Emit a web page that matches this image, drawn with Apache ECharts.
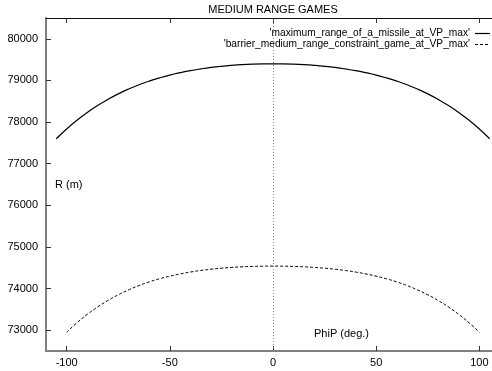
<!DOCTYPE html>
<html>
<head>
<meta charset="utf-8">
<script src="https://cdn.jsdelivr.net/npm/echarts@6/dist/echarts.min.js"></script>
<style>html,body{margin:0;padding:0;background:#fff}#c{width:492px;height:371px}</style>
</head>
<body>
<div id="c"></div>
<script>
var titleText = 'MEDIUM RANGE GAMES';
var seriesNames = ["'maximum_range_of_a_missile_at_VP_max'", "'barrier_medium_range_constraint_game_at_VP_max'"];
var xTicks = [-100, -50, 0, 50, 100];
var yTicks = [73000, 74000, 75000, 76000, 77000, 78000, 79000, 80000];

var phiMax = [-105,-100,-95,-90,-85,-80,-75,-70,-65,-60,-55,-50,-45,-40,-35,-30,-25,-20,-15,-10,-5,0,
  5,10,15,20,25,30,35,40,45,50,55,60,65,70,75,80,85,90,95,100,105];
var rangeMax = [77600,77833,78042,78230,78397,78545,78677,78793,78895,78984,79061,79129,79186,79236,79277,79312,79340,79362,79379,79391,79398,79400,
  79398,79391,79379,79362,79340,79312,79277,79236,79186,79129,79061,78984,78895,78793,78677,78545,78397,78230,78042,77833,77600];

var phiBarrier = [-100,-95,-90,-85,-80,-75,-70,-65,-60,-55,-50,-45,-40,-35,-30,-25,-20,-15,-10,-5,0,
  5,10,15,20,25,30,35,40,45,50,55,60,65,70,75,80,85,90,95,100];
var rangeBarrier = [72950,73178,73380,73558,73714,73850,73968,74071,74159,74234,74298,74352,74397,74434,74465,74489,74508,74523,74532,74538,74540,
  74538,74532,74523,74508,74489,74465,74434,74397,74352,74298,74234,74159,74071,73968,73850,73714,73558,73380,73178,72950];

function pairs(xs, ys){ return xs.map(function(x,i){ return [x, ys[i]]; }); }

var font = 'Liberation Sans, Arial, Helvetica, sans-serif';
var chart = echarts.init(document.getElementById('c'), null, {renderer:'canvas'});
chart.setOption({
  animation: false,
  backgroundColor: '#fff',
  title: {
    text: titleText, left: 273, textAlign: 'center', top: 4, padding: 0,
    textStyle: {fontFamily: font, fontSize: 11, fontWeight: 'normal', color: '#000'}
  },
  legend: {
    orient: 'vertical', right: 2, top: 28, align: 'right', padding: 0,
    itemWidth: 15, itemHeight: 1.2, itemGap: 0, symbolKeepAspect: false,
    textStyle: {fontFamily: font, fontSize: 10.2, color: '#000', lineHeight: 11},
    data: [
      {name: seriesNames[0], icon: 'rect'},
      {name: seriesNames[1], icon: 'path://M0,0h3v1h-3z M5,0h3v1h-3z M10,0h3v1h-3z M15,0h0.01v1h-0.01z'}
    ]
  },
  grid: {left: 46, top: 18, width: 454, height: 333, containLabel: false, outerBoundsMode: 'none'},
  xAxis: [{
    type: 'value', min: -110, max: 110,
    axisLine: {show: true, onZero: false, lineStyle: {color: '#808080', width: 2}},
    axisTick: {show: true, inside: true, length: 5, customValues: xTicks, lineStyle: {color: '#333'}},
    axisLabel: {customValues: xTicks, fontFamily: font, fontSize: 11, color: '#000', margin: 6,
      formatter: function(v){ return String(v); }},
    splitLine: {show: false}
  }, {
    type: 'value', min: -110, max: 110, position: 'top',
    axisLine: {show: true, onZero: false, lineStyle: {color: '#111', width: 1}},
    axisTick: {show: true, inside: true, length: 5, customValues: xTicks, lineStyle: {color: '#333'}},
    axisLabel: {show: false},
    splitLine: {show: false}
  }],
  yAxis: {
    type: 'value', min: 72500, max: 80500,
    axisLine: {show: true, onZero: false, lineStyle: {color: '#808080', width: 2}},
    axisTick: {show: true, inside: true, length: 5, customValues: yTicks, lineStyle: {color: '#333'}},
    axisLabel: {customValues: yTicks, fontFamily: font, fontSize: 11, color: '#000', margin: 8,
      formatter: function(v){ return String(v); }},
    splitLine: {show: false}
  },
  graphic: [
    {type: 'text', left: 55, top: 179, style: {text: 'R (m)', font: '11px ' + font, fill: '#000'}},
    {type: 'text', left: 314, top: 328, style: {text: 'PhiP (deg.)', font: '11px ' + font, fill: '#000'}}
  ],
  series: [{
    name: seriesNames[0], type: 'line', data: pairs(phiMax, rangeMax),
    symbol: 'none', smooth: true, lineStyle: {color: '#000', width: 1.2},
    itemStyle: {color: '#000'},
    markLine: {
      silent: true, symbol: 'none', label: {show: false},
      lineStyle: {color: '#888', type: [1, 2], width: 1},
      data: [{xAxis: 0}]
    }
  }, {
    name: seriesNames[1], type: 'line', data: pairs(phiBarrier, rangeBarrier),
    symbol: 'none', smooth: true, lineStyle: {color: '#000', width: 1, type: [3, 2]},
    itemStyle: {color: '#000'}
  }]
});
</script>
</body>
</html>
